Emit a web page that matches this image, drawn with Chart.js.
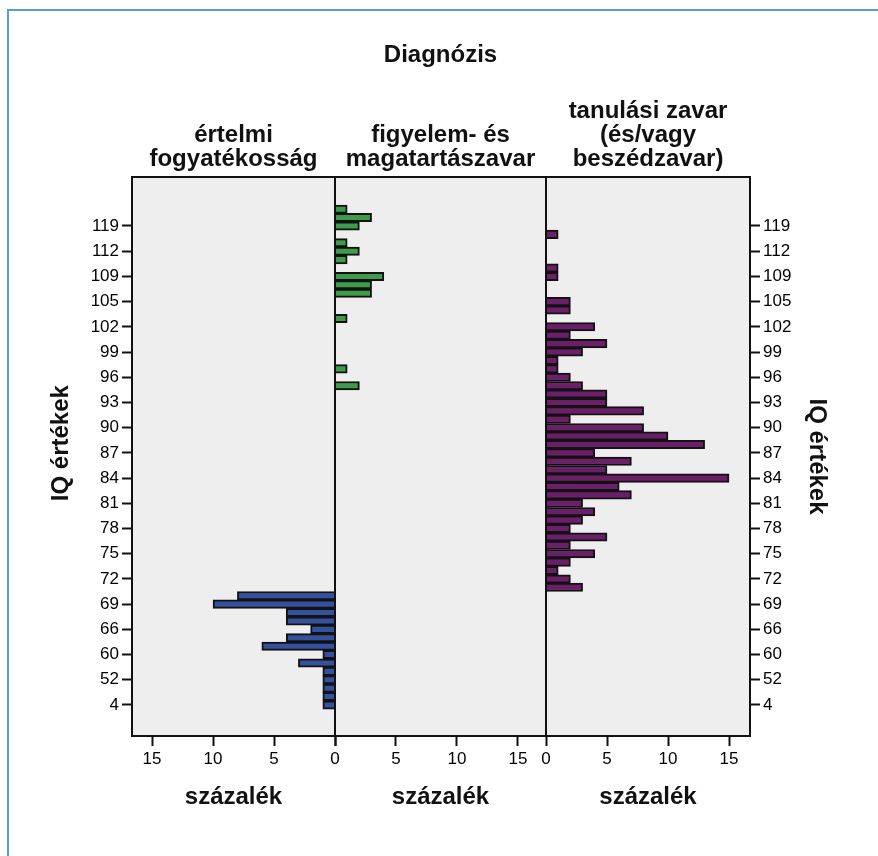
<!DOCTYPE html>
<html>
<head>
<meta charset="utf-8">
<title>IQ értékek diagnózis szerint</title>
<script src="https://cdn.jsdelivr.net/npm/chart.js@4.4.1/dist/chart.umd.min.js"></script>
<style>
  html, body { margin: 0; padding: 0; background: #fff; }
  #wrap { position: relative; width: 878px; height: 856px; overflow: hidden; }
  #wrap canvas { position: absolute; left: 0; top: 0; }
  #edge { position: absolute; left: 7px; top: 9px; right: 0; bottom: 0;
          border-left: 2px solid #5b9bd5; border-top: 2px solid #5b9bd5; }
</style>
</head>
<body>
<div id="wrap">
  <div id="edge"></div>
  <canvas id="cLeft" width="878" height="856"></canvas>
  <canvas id="cMid" width="878" height="856"></canvas>
  <canvas id="cRight" width="878" height="856"></canvas>
</div>
<script>
// IQ value of every row, bottom row first
const iqValues = [4, 45, 50, 52, 55, 57, 60, 62, 64, 66,
  67, 68, 69, 70, 71, 72, 73, 74, 75, 76,
  77, 78, 79, 80, 81, 82, 83, 84, 85, 86,
  87, 88, 89, 90, 91, 92, 93, 94, 95, 96,
  97, 98, 99, 100, 101, 102, 103, 104, 105, 106,
  107, 109, 110, 111, 112, 114, 116, 119, 121, 125];

// labelled rows on the IQ axis
const tickLabels = ['4', '52', '60', '66', '69', '72', '75', '78', '81', '84',
  '87', '90', '93', '96', '99', '102', '105', '109', '112', '119'];

// percent per row (same order as iqValues)
const ertelmi = [1, 1, 1, 1, 1, 3, 1, 6, 4, 2,
  4, 4, 10, 8, 0, 0, 0, 0, 0, 0,
  0, 0, 0, 0, 0, 0, 0, 0, 0, 0,
  0, 0, 0, 0, 0, 0, 0, 0, 0, 0,
  0, 0, 0, 0, 0, 0, 0, 0, 0, 0,
  0, 0, 0, 0, 0, 0, 0, 0, 0, 0];

const figyelem = [0, 0, 0, 0, 0, 0, 0, 0, 0, 0,
  0, 0, 0, 0, 0, 0, 0, 0, 0, 0,
  0, 0, 0, 0, 0, 0, 0, 0, 0, 0,
  0, 0, 0, 0, 0, 0, 0, 0, 2, 0,
  1, 0, 0, 0, 0, 0, 1, 0, 0, 3,
  3, 4, 0, 1, 2, 1, 0, 2, 3, 1];

const tanulasi = [0, 0, 0, 0, 0, 0, 0, 0, 0, 0,
  0, 0, 0, 0, 3, 2, 1, 2, 4, 2,
  5, 2, 3, 4, 3, 7, 6, 15, 5, 7,
  4, 13, 10, 8, 2, 8, 5, 5, 3, 2,
  1, 1, 3, 5, 2, 4, 0, 2, 2, 0,
  0, 1, 1, 0, 0, 0, 1, 0, 0, 0];

const panelTitles = {
  left: ['értelmi', 'fogyatékosság'],
  mid: ['figyelem- és', 'magatartászavar'],
  right: ['tanulási zavar', '(és/vagy', 'beszédzavar)']
};

const FONT = '"Liberation Sans", Arial, Helvetica, sans-serif';
const INK = '#111';
Chart.defaults.font.family = FONT;
Chart.defaults.color = INK;

// grey panel background + black frame round the plot area
const panelFrame = {
  id: 'panelFrame',
  beforeDraw(chart){
    const { ctx, chartArea: a } = chart;
    ctx.save();
    ctx.fillStyle = '#eeeeee';
    ctx.fillRect(a.left, a.top, a.width, a.height);
    ctx.restore();
  },
  afterDraw(chart){
    const { ctx, chartArea: a } = chart;
    ctx.save();
    ctx.strokeStyle = INK;
    ctx.lineWidth = 2;
    ctx.strokeRect(a.left, a.top, a.width, a.height);
    ctx.restore();
  }
};

const headFont = { size: 24, weight: 'bold', lineHeight: 1 };
const tickGrid = { display: true, offset: false, drawOnChartArea: false, drawTicks: true, tickLength: 10, tickWidth: 2, tickColor: INK };

function yAxis(pos){
  const shown = pos !== 'none';
  const cfg = {
    type: 'linear',
    position: shown ? pos : 'left',
    display: shown,
    offset: false,
    min: -3.69,
    max: 62.83,
    afterBuildTicks: s => { s.ticks = tickLabels.map(t => ({ value: iqValues.indexOf(Number(t)) })); },
    ticks: { autoSkip: false, padding: 3, color: '#000', font: { size: 17 }, callback: v => iqValues[v] },
    grid: tickGrid,
    border: { display: true, color: INK, width: 2 },
    // the left title sits a little higher in the original, leading spaces push it up
    title: { display: true, text: pos === 'left' ? '\u00a0\u00a0\u00a0\u00a0IQ értékek' : 'IQ értékek',
             color: INK, font: { size: 24, weight: 'bold' }, padding: { top: 4, bottom: 4 } }
  };
  if (shown) cfg.afterFit = s => { s.width = pos === 'left' ? 89.4 : 85.4; };
  return cfg;
}

function xAxis(max, reverse, hideZero){
  return {
    type: 'linear',
    min: 0,
    max: max,
    reverse: reverse,
    offset: false,
    afterFit: s => { s.height = 79.4; s.paddingLeft = 0; s.paddingRight = 0; },
    ticks: {
      stepSize: 5, includeBounds: false, maxRotation: 0, autoSkip: false,
      padding: 3, color: '#000', font: { size: 17 },
      callback: v => (hideZero && v === 0) ? '' : v
    },
    grid: tickGrid,
    border: { display: true, color: INK, width: 2 },
    title: { display: true, text: 'százalék', color: INK, font: { size: 24, weight: 'bold' }, padding: { top: 4, bottom: 4 } }
  };
}

function buildPanel(id, values, color, o){
  const data = values.map((v, i) => ({ x: v === 0 ? null : v, y: i }));
  return new Chart(document.getElementById(id), {
    type: 'bar',
    data: {
      datasets: [{
        data: data,
        backgroundColor: color,
        borderColor: '#121212',
        borderWidth: 2,
        barPercentage: 1,
        categoryPercentage: 1
      }]
    },
    options: {
      indexAxis: 'y',
      responsive: false,
      animation: false,
      events: [],
      devicePixelRatio: 1,
      layout: { padding: o.padding },
      scales: { x: o.x, y: o.y },
      plugins: {
        legend: { display: false },
        tooltip: { enabled: false },
        title: o.title,
        subtitle: o.subtitle || { display: false }
      }
    },
    plugins: [panelFrame]
  });
}

// left panel: bars grow leftwards
buildPanel('cLeft', ertelmi, '#34519f', {
  padding: { left: 42.6, right: 543, top: 123, bottom: 40.6 },
  x: xAxis(16.64, true, false),
  y: yAxis('left'),
  title: { display: true, fullSize: false, text: panelTitles.left, color: INK, font: headFont, padding: { top: 0, bottom: 6 } }
});

// middle panel carries the overall "Diagnózis" heading
buildPanel('cMid', figyelem, '#3f9b4b', {
  padding: { left: 335, right: 332, top: 43, bottom: 40.6 },
  x: xAxis(17.3, false, true),
  y: yAxis('none'),
  title: { display: true, fullSize: false, text: 'Diagnózis', color: INK, font: headFont, padding: { top: 0, bottom: 56 } },
  subtitle: { display: true, fullSize: false, text: panelTitles.mid, color: INK, font: headFont, padding: { top: 0, bottom: 6 } }
});

buildPanel('cRight', tanulasi, '#6c1f69', {
  padding: { left: 546, right: 42.6, top: 99, bottom: 40.6 },
  x: xAxis(16.72, false, false),
  y: yAxis('right'),
  title: { display: true, fullSize: false, text: panelTitles.right, color: INK, font: headFont, padding: { top: 0, bottom: 6 } }
});
</script>
</body>
</html>
